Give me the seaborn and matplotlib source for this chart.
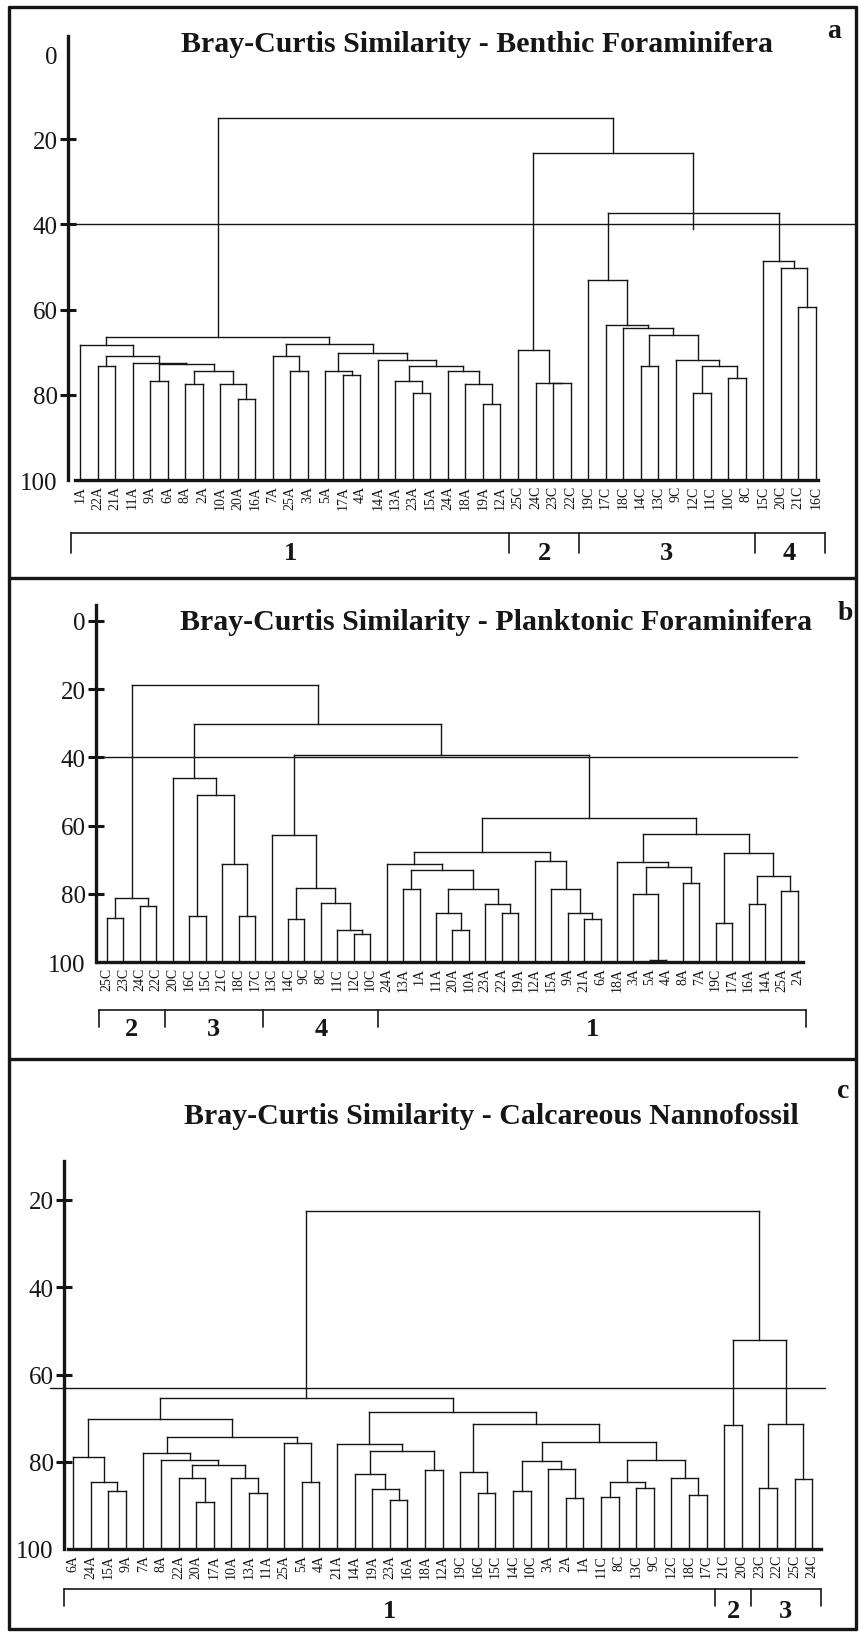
import matplotlib
matplotlib.use("Agg")
import matplotlib.pyplot as plt
import seaborn as sns
from matplotlib.collections import LineCollection
from matplotlib.lines import Line2D

# ---------------- data: dendrogram trees (height, left, right[, stem end]); leaves are sample names
a_left = (68.3, '1A', (71.0, (73.2, '22A', '21A'),
                       (72.5, '11A', (72.8, (76.7, '9A', '6A'),
                                      (74.5, (77.4, '8A', '2A'),
                                       (77.4, '10A', (80.9, '20A', '16A')))))))
a_right = (68.1, (71.0, '7A', (74.5, '25A', '3A')),
           (70.2, (74.5, '5A', (75.3, '17A', '4A')),
            (71.8, '14A', (73.2, (76.7, '13A', (79.5, '23A', '15A')),
                           (74.5, '24A', (77.4, '18A', (82.2, '19A', '12A')))))))
a_c2 = (69.6, '25C', (77.3, '24C', (77.3, '23C', '22C')))
a_c3 = (53.1, '19C', (63.5, '17C', (64.3, '18C',
                                     (66.0, (73.2, '14C', '13C'),
                                      (71.8, '9C', (73.2, (79.5, '12C', '11C'),
                                                    (76.0, '10C', '8C')))))))
a_c4 = (48.6, '15C', (50.3, '20C', (59.4, '21C', '16C')))
tree_a = (15.0, (66.5, a_left, a_right), (23.3, a_c2, (37.4, a_c3, a_c4, 41.0)))

b_c2 = (81.1, (87.0, '25C', '23C'), (83.7, '24C', '22C'))
b_c3 = (46.0, '20C', (51.0, (86.5, '16C', '15C'), (71.4, '21C', (86.5, '18C', '17C'))))
b_c4 = (62.7, '13C', (78.2, (87.3, '14C', '9C'),
                      (82.8, '8C', (90.7, '11C', (91.7, '12C', '10C')))))
b_1a = (71.4, '24A', (73.1, (78.5, '13A', '1A'),
                      (78.5, (85.5, '11A', (90.7, '20A', '10A')),
                       (82.9, '23A', (85.5, '22A', '19A')))))
b_1b = (67.6, b_1a, (70.5, '12A', (78.5, '15A', (85.5, '9A', (87.3, '21A', '6A')))))
b_1c = (62.5, (70.6, '18A', (72.1, (80.1, '3A', (99.5, '5A', '4A')), (76.7, '8A', '7A'))),
        (67.9, (88.6, '19C', '17A'), (74.8, (82.9, '16A', '14A'), (79.3, '25A', '2A'))))
tree_b = (18.7, b_c2, (30.2, b_c3, (39.4, b_c4, (57.9, b_1b, b_1c))))

c_1a = (70.2, (79.0, '6A', (84.6, '24A', (86.6, '15A', '9A'))),
        (74.3, (78.0, '7A', (79.7, '8A', (80.7, (83.7, '22A', (89.3, '20A', '17A')),
                                           (83.7, '10A', (87.2, '13A', '11A'))))),
         (75.6, '25A', (84.6, '5A', '4A'))))
c_1b = (68.7, (76.0, '21A', (77.5, (82.9, '14A', (86.3, '19A', (88.7, '23A', '16A'))),
                             (81.8, '18A', '12A'))),
        (71.3, (82.3, '19C', (87.2, '16C', '15C')),
         (75.4, (79.9, (86.6, '14C', '10C'), (81.6, '3A', (88.3, '2A', '1A'))),
          (79.7, (84.6, (88.0, '11C', '8C'), (86.0, '13C', '9C')),
           (83.7, '12C', (87.6, '18C', '17C'))))))
c_23 = (52.0, (71.5, '21C', '20C'), (71.3, (86.0, '23C', '22C'), (84.0, '25C', '24C')))
tree_c = (22.6, (65.3, c_1a, c_1b), c_23)

cut_a, cut_b, cut_c = 40, 40, 63
yticks_ab = [0, 20, 40, 60, 80, 100]
yticks_c = [20, 40, 60, 80, 100]
group_labels_a, group_sizes_a = ['1', '2', '3', '4'], [25, 4, 10, 4]
group_labels_b, group_sizes_b = ['2', '3', '4', '1'], [4, 6, 7, 26]
group_labels_c, group_sizes_c = ['1', '2', '3'], [37, 2, 4]
titles = ['Bray-Curtis Similarity - Benthic Foraminifera',
          'Bray-Curtis Similarity - Planktonic Foraminifera',
          'Bray-Curtis Similarity - Calcareous Nannofossil']
letters = ['a', 'b', 'c']

# ---------------- style
sns.set_theme(style="white")
plt.rcParams['font.family'] = ['Liberation Serif', 'DejaVu Serif']
INK = '#161616'
W, H = 859, 1633
fig = plt.figure(figsize=(W / 100, H / 100), dpi=100)


def walk(node, counter, segs, leaves):
    """Returns (x, height, lowest point of the stem) and collects link segments."""
    if isinstance(node, str):
        x = counter[0]
        counter[0] += 1
        leaves.append(node)
        return x, 100.0, 100.0
    h, l, r = node[0], node[1], node[2]
    stem_end = node[3] if len(node) > 3 else h
    xl, hl, sl = walk(l, counter, segs, leaves)
    xr, hr, sr = walk(r, counter, segs, leaves)
    segs.append([(xl, sl), (xl, h)])
    segs.append([(xr, sr), (xr, h)])
    segs.append([(xl, h), (xr, h)])
    return (xl + xr) / 2.0, h, stem_end


def panel(tree, box, px0, sp, py0, sc, axis_px, axis_top_px, base_px, yticks, no_mark, cut, cut_px,
          glabels, gsizes, br_px, title, title_xy, letter, letter_xy):
    L, T, R, B = box
    ax = fig.add_axes([L / W, 1 - B / H, (R - L) / W, (B - T) / H])
    ax.set_facecolor('none')
    ix = lambda p: (p - px0) / sp
    iv = lambda p: (p - py0) / sc
    ax.set_xlim(ix(L), ix(R))
    ax.set_ylim(iv(B), iv(T))

    segs, leaves = [], []
    walk(tree, [0], segs, leaves)
    ax.add_collection(LineCollection(segs, colors=INK, linewidths=1.0, capstyle='projecting'))

    # cut-off line
    ax.plot([ix(cut_px[0]), ix(cut_px[1])], [cut, cut], color=INK, lw=1.0, clip_on=False)

    # axes
    for s in ['top', 'right']:
        ax.spines[s].set_visible(False)
    ax.spines['left'].set_position(('data', ix(axis_px)))
    ax.spines['left'].set_bounds(iv(axis_top_px), 100)
    ax.spines['bottom'].set_position(('data', 100))
    ax.spines['bottom'].set_bounds(ix(base_px[0]), ix(base_px[1]))
    for s in ['left', 'bottom']:
        ax.spines[s].set_color(INK)
        ax.spines[s].set_linewidth(2.4)
    ax.set_yticks(yticks)
    ax.set_yticklabels([str(t) for t in yticks])
    ax.tick_params(axis='y', direction='inout', length=11, width=2.2, color=INK,
                   labelsize=18, pad=2, labelcolor=INK, left=True)
    for t, tk in zip(yticks, ax.yaxis.get_major_ticks()):
        if t in no_mark:
            tk.tick1line.set_visible(False)
    ax.set_xticks(range(len(leaves)))
    ax.set_xticklabels(leaves, rotation=90, fontsize=10, color=INK)
    ax.tick_params(axis='x', length=0, pad=3.5, bottom=True)
    ax.grid(False)

    # group brackets
    yline, ytick, ylab = iv(br_px[0]), iv(br_px[1]), iv(br_px[2])
    edges = [-0.5]
    for g in gsizes:
        edges.append(edges[-1] + g)
    ax.plot([edges[0], edges[-1]], [yline, yline], color=INK, lw=1.2, clip_on=False)
    for e in edges:
        ax.plot([e, e], [yline, ytick], color=INK, lw=1.2, clip_on=False)
    for lab, a0, a1 in zip(glabels, edges[:-1], edges[1:]):
        ax.text((a0 + a1) / 2, ylab, lab, ha='center', va='center', fontsize=19,
                fontweight='bold', color=INK, clip_on=False)

    fig.text(title_xy[0] / W, 1 - title_xy[1] / H, title, ha='center', va='center',
             fontsize=21.5, fontweight='bold', color=INK)
    fig.text(letter_xy[0] / W, 1 - letter_xy[1] / H, letter, ha='center', va='center',
             fontsize=20, fontweight='bold', color=INK)
    return ax


panel(tree_a, (9, 8, 856, 578), 80, 17.52, 55, 4.26, 68, 37, (75, 818), yticks_ab, (0, 100),
      cut_a, (68, 856), group_labels_a, group_sizes_a, (534, 554, 553),
      titles[0], (477, 44), letters[0], (834, 31))
panel(tree_b, (9, 579, 856, 1059), 107, 16.45, 622, 3.41, 96, 606, (97, 803), yticks_ab, (100,),
      cut_b, (103, 797), group_labels_b, group_sizes_b, (1011, 1028, 1029),
      titles[1], (496, 623), letters[1], (845, 613))
panel(tree_c, (9, 1060, 856, 1630), 73, 17.6, 1201 - 20 * 4.3625, 4.3625, 64, 1162, (68, 821),
      yticks_c, (100,), cut_c, (50, 825), group_labels_c, group_sizes_c, (1590, 1607, 1612),
      titles[2], (491, 1117), letters[2], (843, 1091))

# frame around the three panels
def fline(x0, y0, x1, y1):
    fig.add_artist(Line2D([x0 / W, x1 / W], [1 - y0 / H, 1 - y1 / H], color=INK, lw=2.4,
                          transform=fig.transFigure))

fline(9, 8, 856, 8)
fline(9, 1630, 856, 1630)
fline(9, 8, 9, 1630)
fline(856, 8, 856, 1630)
fline(9, 578.5, 856, 578.5)
fline(9, 1059.5, 856, 1059.5)

fig.savefig('out.png', dpi=100, facecolor='white')
